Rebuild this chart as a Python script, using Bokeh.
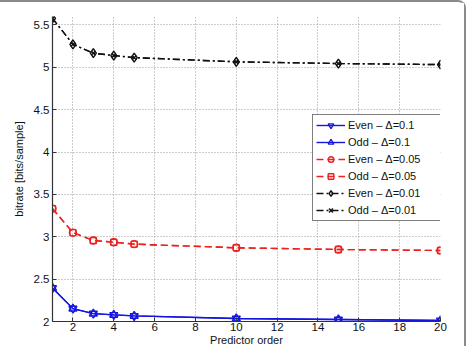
from bokeh.plotting import figure
from bokeh.models import Range1d, FixedTicker, Legend, LegendItem
from bokeh.embed import file_html
from bokeh.resources import INLINE

# Predictor orders evaluated
orders = [1, 2, 3, 4, 5, 10, 15, 20]

# Bitrate [bits/sample] per quantisation step
even_d01 = [2.396, 2.152, 2.093, 2.078, 2.066, 2.035, 2.023, 2.012]
odd_d01 = [2.396, 2.152, 2.093, 2.078, 2.066, 2.035, 2.023, 2.012]
even_d005 = [3.332, 3.049, 2.956, 2.936, 2.913, 2.870, 2.850, 2.838]
odd_d005 = [3.332, 3.049, 2.956, 2.936, 2.913, 2.870, 2.850, 2.838]
even_d001 = [5.578, 5.272, 5.167, 5.139, 5.115, 5.065, 5.045, 5.032]
odd_d001 = [5.578, 5.272, 5.167, 5.139, 5.115, 5.065, 5.045, 5.032]

series_labels = ["Even \u2013 \u0394=0.1", "Odd \u2013 \u0394=0.1",
                 "Even \u2013 \u0394=0.05", "Odd \u2013 \u0394=0.05",
                 "Even \u2013 \u0394=0.01", "Odd \u2013 \u0394=0.01"]

x_ticks = [2, 4, 6, 8, 10, 12, 14, 16, 18, 20]
y_ticks = [2, 2.5, 3, 3.5, 4, 4.5, 5, 5.5]
y_tick_labels = ["2", "2.5", "3", "3.5", "4", "4.5", "5", "5.5"]

FONT = "Liberation Sans"

p = figure(width=466, height=346, output_backend="svg", toolbar_location=None,
           x_range=Range1d(1, 20), y_range=Range1d(2, 5.6),
           min_border_left=52, min_border_right=26,
           min_border_top=14, min_border_bottom=0)
p.styles = {"border-top": "2px solid #8a8a8a", "border-right": "2px solid #8a8a8a",
            "border-top-right-radius": "8px"}
p.outline_line_color = None
p.background_fill_color = "white"
p.border_fill_color = "white"

for ax in (p.xaxis[0], p.yaxis[0]):
    ax.axis_line_color = "#333333"
    ax.axis_line_width = 1.2
    ax.major_tick_in = 4
    ax.major_tick_out = 0
    ax.major_tick_line_color = "#333333"
    ax.minor_tick_line_color = None
    ax.major_label_text_font = FONT
    ax.major_label_text_font_size = "11.5px"
    ax.major_label_text_color = "#111111"
    ax.axis_label_text_font = FONT
    ax.axis_label_text_font_size = "11px"
    ax.axis_label_text_font_style = "normal"
    ax.axis_label_text_color = "#111111"

p.xaxis.ticker = FixedTicker(ticks=x_ticks)
p.xaxis.major_label_standoff = 1
p.xaxis.axis_label = "Predictor order"
p.xaxis.axis_label_standoff = 0
p.yaxis.ticker = FixedTicker(ticks=y_ticks)
p.yaxis.major_label_overrides = {t: s for t, s in zip(y_ticks, y_tick_labels)}
p.yaxis.major_label_standoff = 3
p.yaxis.axis_label = "bitrate [bits/sample]"
p.yaxis.axis_label_standoff = 6

for g in (p.xgrid[0], p.ygrid[0]):
    g.grid_line_color = "#9a9a9a"
    g.grid_line_dash = "1 2"
    g.grid_line_width = 1

blue = "#1515e0"
red = "#ee2020"
black = "#111111"

specs = [
    (even_d01, blue, "solid", "inverted_triangle", 8),
    (odd_d01, blue, "solid", "triangle", 8),
    (even_d005, red, "7 4", "circle", 7),
    (odd_d005, red, "7 4", "square", 6),
    (even_d001, black, "7 3 2 3", "diamond", 9),
    (odd_d001, black, "7 3 2 3", "x", 6),
]

items = []
for (vals, col, dash, mk, sz), lab in zip(specs, series_labels):
    ln = p.line(orders, vals, line_color=col, line_dash=dash, line_width=1.4)
    sc = p.scatter(orders, vals, marker=mk, size=sz, line_color=col,
                   line_width=1.4, fill_alpha=0)
    items.append(LegendItem(label=lab, renderers=[ln, sc]))

# legend box anchored in screen pixels from the frame's bottom-left corner
legend = Legend(items=items, location=(260, 100))
legend.border_line_color = "black"
legend.border_line_width = 1
legend.background_fill_color = "white"
legend.background_fill_alpha = 1
legend.label_text_font = FONT
legend.label_text_font_size = "11px"
legend.label_text_color = "#111111"
legend.padding = 3
legend.spacing = 3
legend.glyph_width = 29
legend.glyph_height = 14
legend.label_height = 14
legend.label_standoff = 3
legend.label_width = 90
legend.margin = 0
p.add_layout(legend, "center")

open("out.html", "w").write(file_html(p, INLINE))
